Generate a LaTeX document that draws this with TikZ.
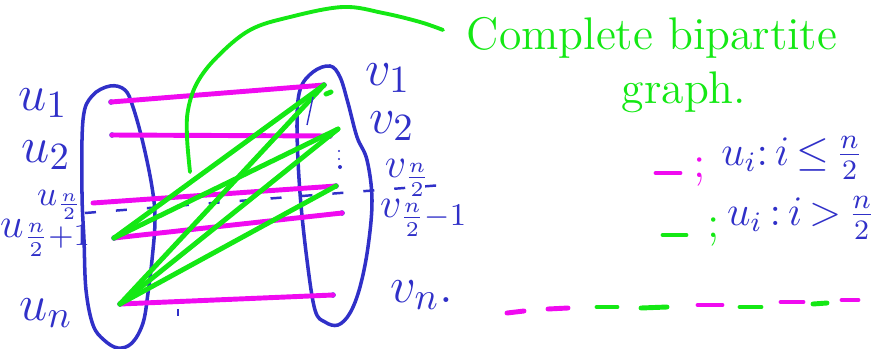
\documentclass[tikz,border=0pt]{standalone}
\usepackage{amsmath}
\usetikzlibrary{positioning}
\definecolor{penblue}{RGB}{48,48,200}
\definecolor{penmag}{RGB}{240,10,240}
\definecolor{pengreen}{RGB}{20,232,20}

\begin{document}
\begin{tikzpicture}[
  x=0.01cm, y=-0.01cm,
  vdot/.style={circle, fill=penblue, inner sep=0pt, minimum size=0.055cm},
  blob/.style={draw=penblue, line width=1pt},
  matched/.style={draw=penmag, line width=1.4pt, line cap=round},
  cross/.style={draw=pengreen, line width=1.4pt, line cap=round},
  cut/.style={draw=penblue, line width=0.7pt, dash pattern=on 0.11cm off 0.2cm},
  lbl/.style={text=penblue, inner sep=0pt, font=\fontsize{15}{17}\selectfont},
  midlbl/.style={text=penblue, inner sep=0pt, font=\fontsize{12.5}{14}\selectfont},
  small/.style={text=penblue, inner sep=0pt, font=\fontsize{10}{12}\selectfont},
  keytext/.style={text=penblue, inner sep=0pt, font=\fontsize{12}{14}\selectfont},
  heading/.style={text=pengreen, inner sep=0pt, font=\fontsize{13}{15}\selectfont}
]
\useasboundingbox (0,0) rectangle (873,348);

% the two sides
\draw[blob] plot[smooth cycle, tension=0.6] coordinates {(110,86) (125,90) (133,107) (143,143) (152,187) (155,220)
  (152,260) (148,293) (143,323) (132,343) (118,348) (104,340) (93,325) (86,290) (84,240) (82,193) (83,120) (92,96)};
\draw[blob] plot[smooth cycle, tension=0.6] coordinates {(330,66) (340,77) (348,103) (357,137) (367,160) (372,200)
  (368,247) (360,287) (350,313) (338,325) (325,322) (315,310) (307,260) (300,193) (297,127) (300,90) (313,72)};

% vertices
\node[vdot] (u1) at (111,102) {};
\node[vdot] (u2) at (112,135) {};
\coordinate (uh) at (93,203);
\node[vdot] (uh1) at (114,238) {};
\node[vdot] (un) at (120,304) {};

\node[vdot] (v1) at (324,85) {};
\node[vdot] (v2) at (330,136) {};
\coordinate (v2g) at (338,129);
\node[vdot] (vh) at (336,186) {};
\node[vdot] (vh1) at (342,213) {};
\node[vdot] (vn) at (333,295) {};

\fill[penblue] (339,151) circle (0.012cm) (339,159) circle (0.012cm) (340,167) circle (0.02cm);

% labels
\node[lbl] (lu1) at (43,103) {$u_1$};
\node[lbl] (lu2) at (46,155) {$u_2$};
\node[small] (luh) at (60,205) {$u_{\frac{n}{2}}$};
\node[midlbl] (luh1) at (46,238) {$u_{\frac{n}{2}+1}$};
\node[lbl] (lun) at (46,313) {$u_n$};

\node[lbl] (lv1) at (388,78) {$v_1$};
\node[lbl] (lv2) at (392,126) {$v_2$};
\node[midlbl] (lvh) at (408,178) {$v_{\frac{n}{2}}$};
\node[midlbl] (lvh1) at (424,218) {$v_{\frac{n}{2}-1}$};
\node[lbl] (lvn) at (422,295) {$v_n.$};

% the cut between the halves
\coordinate (cutL) at (85,213);
\coordinate (cutR) at (455,184);
\draw[cut] (cutL) -- (cutR);

% u_i, i <= n/2 to their partners
\draw[matched] (u1.center) -- (v1.center);
\draw[matched] (u2.center) -- (v2.center);
\draw[matched] (uh) -- (vh.center);
\draw[matched] (uh1.center) -- (vh1.center);
\draw[matched] (un.center) -- (vn.center);

% u_i, i > n/2 to all
\draw[cross] (uh1.center) -- (v1.center);
\draw[cross] (uh1.center) -- (v2g);
\draw[cross] (un.center) -- (v1.center);
\draw[cross] (un.center) -- (v2g);
\draw[cross] (un.center) -- (vh.center);
\draw[cross] (326,94) -- (331,92);

% stray pen marks
\draw[penblue, line width=0.4pt] (313,97) -- (307,125);
\draw[penblue, line width=0.6pt] (178,309) -- (178,316);

% title
\node[heading] (title) at (652,38) {Complete bipartite};
\node[heading] (titleb) at (684,92) {graph.};
\draw[draw=pengreen, line width=1.1pt, line cap=round] plot[smooth, tension=0.6] coordinates {(443,30) (420,22) (383,13)
  (343,7) (290,17) (250,30) (217,57) (197,83) (188,110) (187,137) (190,172)};

% key
\draw[matched] (656,173) -- (680,173);
\node[text=penmag, inner sep=0pt, font=\fontsize{13}{15}\selectfont] (semiA) at (700,172) {;};
\node[keytext] (keyA) at (792,158) {$u_i{:}\,i\,{\le}\,\frac{n}{2}$};
\draw[cross] (663,235) -- (686,235);
\node[text=pengreen, inner sep=0pt, font=\fontsize{13}{15}\selectfont] (semiB) at (714,232) {;};
\node[keytext] (keyB) at (801,218) {$u_i\,{:}\,i\,{>}\,\frac{n}{2}$};

% dashed separator
\foreach \xa/\ya/\xb/\yb/\c in {507/313/524/311/penmag, 548/309/568/308/penmag, 597/307/617/307/pengreen,
  641/308/667/307/pengreen, 698/305/722/305/penmag, 740/307/761/307/pengreen, 781/302/803/302/penmag,
  813/304/827/303/pengreen, 842/300/858/300/penmag}
  \draw[\c, line width=1.4pt, line cap=round] (\xa,\ya) -- (\xb,\yb);

\end{tikzpicture}
\end{document}
